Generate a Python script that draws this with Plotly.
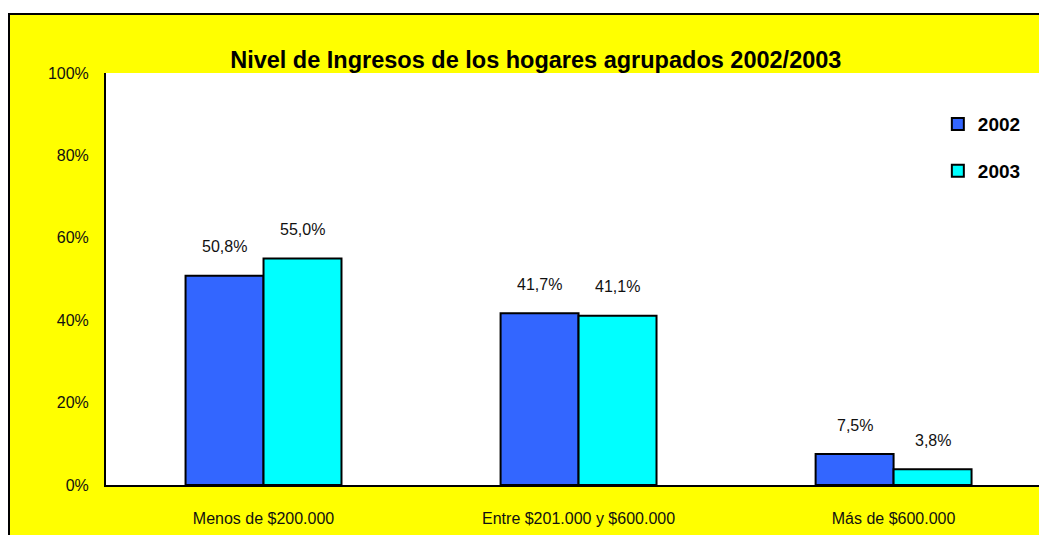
import plotly.graph_objects as go

# data
categorias = ['Menos de $200.000', 'Entre $201.000 y $600.000', 'Más de $600.000']
anios = ['2002', '2003']
valores_2002 = [50.8, 41.7, 7.5]
valores_2003 = [55.0, 41.1, 3.8]
y_ticks = [0, 20, 40, 60, 80, 100]
y_tick_labels = ['0%', '20%', '40%', '60%', '80%', '100%']

series = {'2002': valores_2002, '2003': valores_2003}
colores = {'2002': '#3366FF', '2003': '#00FFFF'}

FONT = 'Liberation Sans, Arial, sans-serif'

fig = go.Figure()
for anio in anios:
    fig.add_trace(go.Bar(
        name=anio,
        x=categorias,
        y=series[anio],
        legendgroup=anio,
        marker=dict(color=colores[anio], line=dict(color='black', width=2)),
        hoverinfo='skip',
    ))

# value labels above every bar
for j, anio in enumerate(anios):
    for cat, val in zip(categorias, series[anio]):
        fig.add_annotation(
            x=cat, y=val, xref='x', yref='y',
            text=f'{val:.1f}%'.replace('.', ','),
            showarrow=False,
            xshift=-39 if j == 0 else 39,
            yshift=29,
            yanchor='middle',
            font=dict(family=FONT, size=16, color='#111111'),
        )

# yellow frame with black border, then the white plot area on top of it
fig.add_shape(type='rect', layer='below',
              xref='paper', yref='paper', xsizemode='pixel', ysizemode='pixel',
              xanchor=0, yanchor=1, x0=-97, x1=1000, y0=-600, y1=59,
              fillcolor='#FFFF00', line=dict(color='black', width=2))
fig.add_shape(type='rect', layer='below',
              xref='paper', yref='paper', x0=0, x1=1, y0=0, y1=1,
              fillcolor='white', line=dict(width=0))

fig.update_layout(
    width=1039,
    height=527,
    margin=dict(l=98, r=0, t=65, b=50),
    paper_bgcolor='white',
    plot_bgcolor='rgba(0,0,0,0)',
    barmode='group',
    bargap=0.505,
    bargroupgap=0,
    title=dict(
        text='<b>Nivel de Ingresos de los hogares agrupados 2002/2003</b>',
        x=0.508, xanchor='center', y=0.901, yanchor='middle',
        font=dict(family=FONT, size=23.5, color='black'),
    ),
    showlegend=True,
    legend=dict(
        x=0.884, y=0.922, xanchor='left', yanchor='top',
        bgcolor='rgba(0,0,0,0)',
        font=dict(family=FONT, size=19, color='black', weight='bold'),
        traceorder='grouped',
        tracegroupgap=19,
    ),
    xaxis=dict(
        range=[-0.5, 2.487],
        showline=True, linecolor='black', linewidth=2,
        ticks='', showgrid=False,
        ticklabelstandoff=18,
        tickfont=dict(family=FONT, size=16, color='#111111'),
    ),
    yaxis=dict(
        range=[0, 100],
        tickvals=y_ticks,
        ticktext=y_tick_labels,
        showline=True, linecolor='black', linewidth=2,
        ticks='', showgrid=False, zeroline=False,
        ticklabelstandoff=12,
        tickfont=dict(family=FONT, size=16, color='#111111'),
    ),
    font=dict(family=FONT),
)

fig.write_html('out.html')
